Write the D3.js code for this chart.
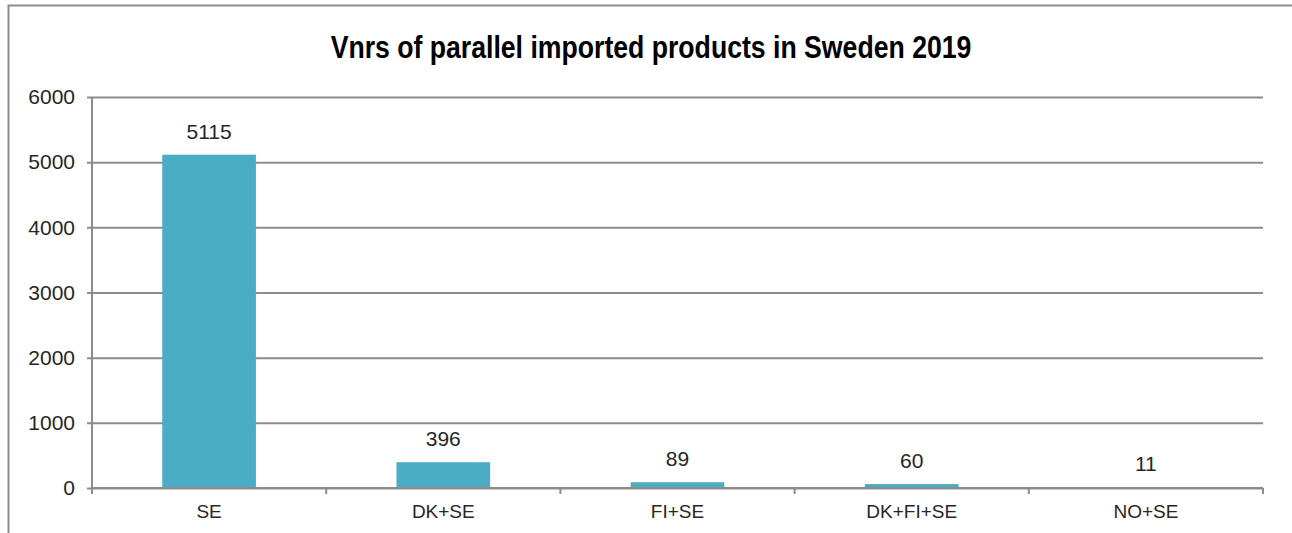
<!DOCTYPE html>
<html>
<head>
<meta charset="utf-8">
<script src="https://cdn.jsdelivr.net/npm/d3@7"></script>
<style>
  body { margin: 0; background: white; }
  text { font-family: "Liberation Sans", Arial, sans-serif; }
  .chart-title { font-weight: bold; font-size: 31px; fill: black; }
  .tick text { font-size: 21px; fill: #262626; }
  .value-label { font-size: 21px; fill: #262626; }
  .xlabel { font-size: 19px; fill: #262626; }
</style>
</head>
<body>
<svg width="1292" height="533"></svg>
<script>
const categories = ["SE", "DK+SE", "FI+SE", "DK+FI+SE", "NO+SE"];
const counts = [5115, 396, 89, 60, 11];
const yTicks = [0, 1000, 2000, 3000, 4000, 5000, 6000];

const svg = d3.select('svg');
const data = categories.map((c, i) => ({ category: c, count: counts[i] }));

// outer chart frame (only left and top edges show in the picture)
svg.append('path')
    .attr('d', 'M8.5,540 L8.5,5.5 L1300,5.5')
    .attr('fill', 'none')
    .attr('stroke', '#8c8c8c')
    .attr('stroke-width', 2);

const margin = { top: 97, left: 92, right: 29, bottom: 45 };
const innerWidth = 1263 - margin.left;
const innerHeight = 488 - margin.top;

const g = svg.append('g')
    .attr('transform', `translate(${margin.left}, ${margin.top})`);

const xScale = d3.scaleBand()
    .domain(categories)
    .range([0, innerWidth])
    .paddingInner(0.6)
    .paddingOuter(0.3);

const yScale = d3.scaleLinear()
    .domain([0, 6000])
    .range([innerHeight, 0]);

// gridlines + y axis
const yAxis = d3.axisLeft(yScale)
    .tickValues(yTicks)
    .tickFormat(d3.format('d'))
    .tickSize(-innerWidth)
    .tickPadding(17);
const yAxisGroup = g.append('g').call(yAxis);
yAxisGroup.selectAll('.tick line')
    .attr('x1', -5)
    .attr('stroke', '#8c8c8c')
    .attr('stroke-width', 2);
yAxisGroup.select('.domain').remove();
g.append('line')
    .attr('x1', 0).attr('x2', 0)
    .attr('y1', 0).attr('y2', innerHeight + 6)
    .attr('stroke', '#8c8c8c')
    .attr('stroke-width', 2);

// bars
g.selectAll('rect.bar').data(data)
    .enter().append('rect')
    .attr('class', 'bar')
    .attr('x', d => xScale(d.category))
    .attr('y', d => yScale(d.count))
    .attr('width', xScale.bandwidth())
    .attr('height', d => innerHeight - yScale(d.count))
    .attr('fill', '#4bacc6');

// x axis
const step = xScale.step();
const xAxisGroup = g.append('g')
    .attr('transform', `translate(0, ${innerHeight})`);
xAxisGroup.append('line')
    .attr('x1', 0).attr('x2', innerWidth)
    .attr('stroke', '#8c8c8c')
    .attr('stroke-width', 2);
xAxisGroup.selectAll('line.xtick').data(d3.range(categories.length + 1))
    .enter().append('line')
    .attr('class', 'xtick')
    .attr('x1', i => i * step).attr('x2', i => i * step)
    .attr('y1', 0).attr('y2', 6)
    .attr('stroke', '#8c8c8c')
    .attr('stroke-width', 2);
xAxisGroup.selectAll('text.xlabel').data(categories)
    .enter().append('text')
    .attr('class', 'xlabel')
    .attr('x', d => xScale(d) + xScale.bandwidth() / 2)
    .attr('y', 30)
    .attr('text-anchor', 'middle')
    .text(d => d);

// value labels
g.selectAll('text.value-label').data(data)
    .enter().append('text')
    .attr('class', 'value-label')
    .attr('x', d => xScale(d.category) + xScale.bandwidth() / 2)
    .attr('y', d => yScale(d.count) - 16)
    .attr('text-anchor', 'middle')
    .text(d => d.count);

// title (condensed bold, squeezed to the narrow face's width)
const title = svg.append('text')
    .attr('class', 'chart-title')
    .attr('text-anchor', 'middle')
    .text('Vnrs of parallel imported products in Sweden 2019');
const titleWidth = title.node().getComputedTextLength();
const squeeze = 641 / titleWidth;
title.attr('transform', `translate(651, 58) scale(${squeeze}, 1)`);
</script>
</body>
</html>
